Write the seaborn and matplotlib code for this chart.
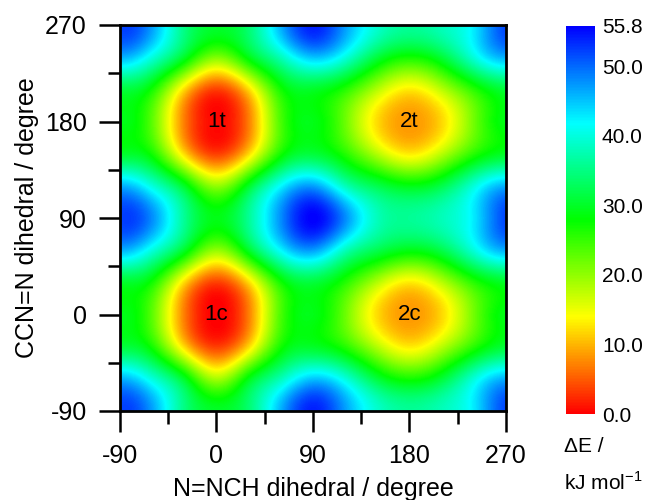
import numpy as np
import matplotlib
matplotlib.use("Agg")
import matplotlib.pyplot as plt
import seaborn as sns

# Grid of dihedral angles (degrees)
x_deg = [-90, -60, -30, 0, 30, 60, 90, 120, 150, 180, 210, 240, 270]
y_deg = [-90, -60, -30, 0, 30, 60, 90, 120, 150, 180, 210, 240, 270]

e_y_m90 = [52, 47, 35, 30, 34, 46, 54, 47, 39, 36, 38, 43, 52]
e_y_m60 = [46, 40, 30, 19, 29, 38, 45, 40, 31, 27, 31, 40, 46]
e_y_m30 = [31, 27, 12, 3.5, 12, 27, 30, 26, 18, 13, 18, 26, 31]
e_y_0 = [29, 23, 7, 0, 7, 24, 29, 22, 12, 8.5, 12, 22, 29]
e_y_30 = [30, 27, 12, 3.5, 12, 27, 31, 26, 18, 13, 18, 26, 30]
e_y_60 = [46, 40, 30, 20, 30, 42, 47, 38, 32, 29, 32, 40, 46]
e_y_90 = [52, 48, 36, 29, 36, 48, 55.8, 48, 38, 36, 38, 43, 52]
e_y_120 = [46, 40, 30, 20, 30, 42, 47, 38, 32, 29, 32, 40, 46]
e_y_150 = [30, 27, 12, 3.5, 12, 27, 31, 26, 18, 13, 18, 26, 30]
e_y_180 = [29, 23, 7, 0.5, 7, 24, 29, 22, 12, 8.5, 12, 22, 29]
e_y_210 = [31, 27, 12, 3.5, 12, 27, 30, 26, 18, 13, 18, 26, 31]
e_y_240 = [46, 40, 30, 21, 29, 38, 45, 40, 31, 27, 31, 40, 46]
e_y_270 = [52, 47, 35, 30, 34, 46, 54, 47, 39, 36, 38, 43, 52]

minima_labels = ["1t", "2t", "1c", "2c"]
minima_x = [0, 180, 0, 180]
minima_y = [180, 180, 0, 0]

cbar_ticks = [0.0, 10.0, 20.0, 30.0, 40.0, 50.0, 55.8]
e_min, e_max = 0.0, 55.8

sns.set_theme(style="white")
plt.rcParams["font.family"] = ["Liberation Sans", "DejaVu Sans"]
plt.rcParams["mathtext.fontset"] = "custom"
plt.rcParams["mathtext.rm"] = "Liberation Sans"
plt.rcParams["axes.unicode_minus"] = False
plt.rcParams["text.color"] = "black"
plt.rcParams["axes.labelcolor"] = "black"
plt.rcParams["xtick.color"] = "black"
plt.rcParams["ytick.color"] = "black"

grid = np.array([e_y_m90, e_y_m60, e_y_m30, e_y_0, e_y_30, e_y_60, e_y_90,
                 e_y_120, e_y_150, e_y_180, e_y_210, e_y_240, e_y_270], float)
# periodic surface: extend with period-wrapped samples on each side
core = grid[:-1, :-1]
padded = np.pad(core, ((2, 3), (2, 3)), mode="wrap")
step = x_deg[1] - x_deg[0]
ext = [x_deg[0] - 2.5 * step, x_deg[-1] + 2.5 * step,
       y_deg[0] - 2.5 * step, y_deg[-1] + 2.5 * step]

cmap = sns.blend_palette(["#ff0000", "#ffff00", "#00ff00", "#00ffff", "#0000ff"],
                         as_cmap=True)

fig = plt.figure(figsize=(6.45, 5.0), dpi=100)
ax = fig.add_axes([0.186, 0.178, 0.5985, 0.772])
im = ax.imshow(padded, origin="lower", extent=ext, cmap=cmap, vmin=e_min,
               vmax=e_max, interpolation="spline36", aspect="auto")
ax.set_xlim(-90, 270)
ax.set_ylim(-90, 270)

for lab, xx, yy in zip(minima_labels, minima_x, minima_y):
    ax.text(xx, yy, lab, ha="center", va="center", fontsize=16, color="black")

ax.set_xticks([-90, 0, 90, 180, 270])
ax.set_yticks([-90, 0, 90, 180, 270])
ax.set_xticks([-45, 45, 135, 225], minor=True)
ax.set_yticks([-45, 45, 135, 225], minor=True)
ax.tick_params(which="major", direction="out", length=15, width=1.8,
               labelsize=18, color="black", labelcolor="black", pad=9,
               bottom=True, left=True)
ax.tick_params(which="minor", direction="out", length=9, width=1.8,
               color="black", bottom=True, left=True)
for s in ax.spines.values():
    s.set_linewidth(2)
    s.set_color("black")
ax.set_xlabel("N=NCH dihedral / degree", fontsize=18, labelpad=6)
ax.set_ylabel("CCN=N dihedral / degree", fontsize=18, labelpad=4)

cax = fig.add_axes([0.8775, 0.172, 0.045, 0.776])
cb = fig.colorbar(im, cax=cax, ticks=cbar_ticks)
cb.outline.set_visible(False)
cb.ax.tick_params(length=0, labelsize=15, pad=5, labelcolor="black")
cb.ax.set_yticklabels([f"{t:.1f}" for t in cbar_ticks])

fig.text(0.874, 0.106, "ΔE /", fontsize=15, ha="left", va="center")
fig.text(0.874, 0.036, "kJ mol$^{-1}$", fontsize=15, ha="left", va="center")

fig.savefig("out.png", dpi=100)
